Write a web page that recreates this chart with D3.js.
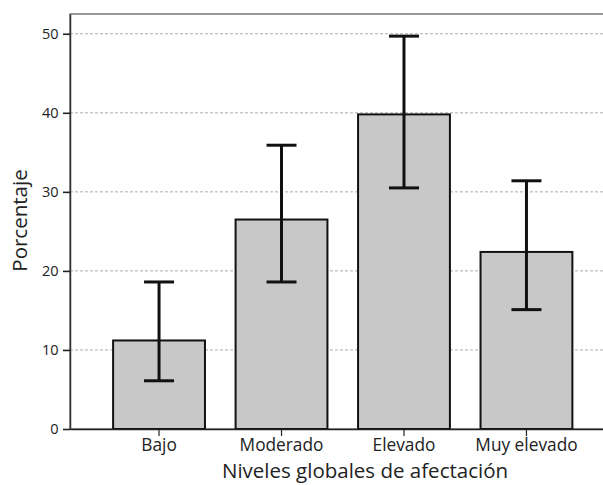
<!DOCTYPE html>
<html><head><meta charset="utf-8">
<script src="https://cdn.jsdelivr.net/npm/d3@7"></script>
<style>body{margin:0;background:#fff}svg{display:block}text{font-family:"Open Sans",sans-serif;fill:#222}</style>
</head><body>
<script>
const categories = ["Bajo", "Moderado", "Elevado", "Muy elevado"];
const values = [11.2, 26.5, 39.8, 22.4];
const errLow = [6.1, 18.6, 30.5, 15.1];
const errHigh = [18.6, 35.9, 49.7, 31.4];
const yTicks = [0, 10, 20, 30, 40, 50];

const W = 603, H = 485;
const svg = d3.select("body").append("svg").attr("width", W).attr("height", H);
const mLeft = 70, mRight = 615.5, mTop = 14, mBottom = 429;

const x = d3.scaleBand().domain(categories).range([mLeft, mRight]).paddingInner(0.25).paddingOuter(0.352);
const y = d3.scaleLinear().domain([0, 52.5]).range([mBottom, mTop]);

// gridlines
svg.append("g").selectAll("line").data(yTicks.filter(d => d > 0)).join("line")
  .attr("x1", mLeft).attr("x2", mRight).attr("y1", d => y(d)).attr("y2", d => y(d))
  .attr("stroke", "#999").attr("stroke-width", 0.8).attr("stroke-dasharray", "3,2");

// frame
svg.append("rect").attr("x", mLeft).attr("y", mTop).attr("width", mRight - mLeft).attr("height", mBottom - mTop)
  .attr("fill", "none").attr("stroke", "#555").attr("stroke-width", 1.2);

// bars
svg.append("g").selectAll("rect").data(categories).join("rect")
  .attr("x", d => x(d)).attr("width", x.bandwidth())
  .attr("y", (d, i) => y(values[i])).attr("height", (d, i) => y(0) - y(values[i]))
  .attr("fill", "#c8c8c8").attr("stroke", "#111").attr("stroke-width", 2);

// error bars
const eb = svg.append("g").attr("stroke", "#111").attr("stroke-width", 3);
const cap = 15;
categories.forEach((c, i) => {
  const cx = x(c) + x.bandwidth() / 2;
  eb.append("line").attr("x1", cx).attr("x2", cx).attr("y1", y(errLow[i])).attr("y2", y(errHigh[i]));
  eb.append("line").attr("x1", cx - cap).attr("x2", cx + cap).attr("y1", y(errLow[i])).attr("y2", y(errLow[i]));
  eb.append("line").attr("x1", cx - cap).attr("x2", cx + cap).attr("y1", y(errHigh[i])).attr("y2", y(errHigh[i]));
});

// axes
const ya = svg.append("g").attr("transform", `translate(${mLeft},0)`)
  .call(d3.axisLeft(y).tickValues(yTicks).tickSize(7).tickPadding(4.5).tickSizeOuter(0));
ya.select(".domain").attr("stroke", "#333").attr("stroke-width", 1.5);
ya.selectAll(".tick line").attr("stroke", "#222").attr("stroke-width", 1.6);
ya.selectAll("text").style("font-size", "14.5px").attr("fill", "#222");

const xa = svg.append("g").attr("transform", `translate(0,${mBottom})`)
  .call(d3.axisBottom(x).tickSize(7).tickPadding(3).tickSizeOuter(0));
xa.select(".domain").attr("stroke", "#222").attr("stroke-width", 1.5);
xa.selectAll(".tick line").attr("stroke", "#222").attr("stroke-width", 1.2);
xa.selectAll("text").style("font-size", "17.3px").attr("fill", "#222");

svg.append("text").attr("x", 365).attr("y", 478).attr("text-anchor", "middle")
  .style("font-size", "20.5px").text("Niveles globales de afectación");
svg.append("text").attr("transform", `translate(27,220.5) rotate(-90)`)
  .attr("text-anchor", "middle").style("font-size", "20.5px").text("Porcentaje");
</script>
</body></html>
